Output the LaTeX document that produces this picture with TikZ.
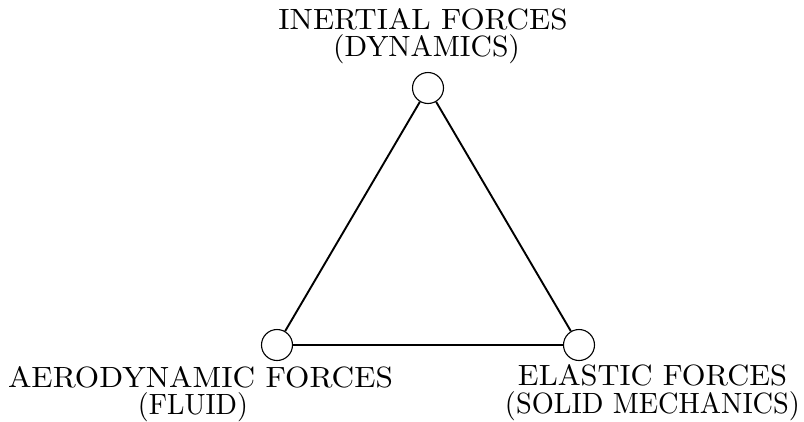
\documentclass[tikz,border=0pt]{standalone}
\usepackage{graphicx}
\newcommand\fitw[2]{\resizebox{#1}{\height}{\scalebox{2.93}{\fontsize{10}{12}\selectfont #2}}}
\begin{document}
\begin{tikzpicture}[x=1pt,y=-1pt,
  vtx/.style={circle,draw,line width=1.1pt,minimum size=31pt,inner sep=0pt},
  edge/.style={line width=1.9pt},
  lbl/.style={anchor=base,inner sep=0pt}]
\useasboundingbox (0,0) rectangle (804,421);
\node[vtx] (top) at (428,88) {};
\node[vtx] (bl) at (277,345) {};
\node[vtx] (br) at (579,345) {};
\draw[edge] (top) -- (bl);
\draw[edge] (top) -- (br);
\draw[edge] (bl) -- (br);
\node[lbl] (t1) at (423,29.5) {\fitw{289pt}{INERTIAL FORCES}};
\node[lbl] (t2) at (426.5,56.7) {\fitw{187pt}{(DYNAMICS)}};
\node[lbl] (l1) at (200.5,387.5) {\fitw{385pt}{AERODYNAMIC FORCES}};
\node[lbl] (l2) at (193,414.5) {\fitw{110pt}{(FLUID)}};
\node[lbl] (r1) at (652.5,385.7) {\fitw{269pt}{ELASTIC FORCES}};
\node[lbl] (r2) at (652.5,413.3) {\fitw{295pt}{(SOLID MECHANICS)}};
\end{tikzpicture}
\end{document}
